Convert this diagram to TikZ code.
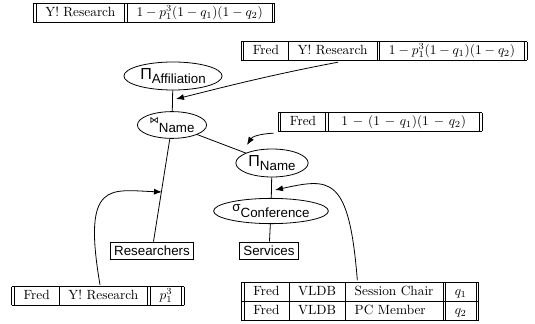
\documentclass[tikz,border=0pt]{standalone}
\usepackage{fontspec}
\setsansfont{Liberation Sans}
\newfontfamily\joinfont{DejaVu Sans}
\usetikzlibrary{shapes.geometric,arrows.meta}
\renewcommand{\arraystretch}{1.15}
\setlength{\tabcolsep}{7pt}

\begin{document}
\begin{tikzpicture}[x=0.75pt,y=-0.75pt,line width=0.6pt,
    operator/.style ={ellipse, draw, inner sep=1.5pt, font=\sffamily},
    relation/.style ={rectangle, draw, inner sep=3pt, font=\sffamily},
    result/.style ={inner sep=0pt},
    annot/.style ={-{Latex[length=6pt,width=4.5pt]}}]
   \useasboundingbox (0,0) rectangle (535,324);

   % query plan
   \node[operator] (aff)   at (173,76)  {{\large Π}\raisebox{-3.5pt}{Affiliation}};
   \node[operator] (join)  at (172,125) {\raisebox{3pt}{\joinfont\scriptsize ⋈}\raisebox{-3.5pt}{Name}};
   \node[operator] (pname) at (272,163) {{\large Π}\raisebox{-3.5pt}{Name}};
   \node[operator] (sel)   at (271,211) {\raisebox{2.5pt}{σ}\raisebox{-2.5pt}{Conference}};
   \node[relation] (res)   at (152,251) {Researchers};
   \node[relation] (serv)  at (269,251) {Services};

   \draw (aff) to (join);
   \draw (join) to (pname);
   \draw (join) to (res);
   \draw (pname) to (sel);
   \draw (sel) to (serv);

   % intermediate results
   \node[result] (t1) at (154,12.5) {\begin{tabular}{||c||c||}\hline
      Y! Research & $1-p_1^3(1-q_1)(1-q_2)$ \\ \hline\end{tabular}};
   \node[result] (t2) at (384,51) {\begin{tabular}{||c|c||c||}\hline
      Fred & Y! Research & $1-p_1^3(1-q_1)(1-q_2)$ \\ \hline\end{tabular}};
   \node[result] (t3) at (380,122) {\begin{tabular}{||c||c||}\hline
      Fred & \hspace{3pt}{\medmuskip=6.5mu $1-(1-q_1)(1-q_2)$}\hspace{3pt} \\ \hline\end{tabular}};
   \node[result] (t4) at (98,296) {\begin{tabular}{||c|c||c||}\hline
      Fred & Y! Research & $p_1^3$ \\ \hline\end{tabular}};
   \node[result] (t5) at (360,301) {\begin{tabular}{||c|c|l||c||}\hline
      Fred & VLDB & Session Chair & $q_1$ \\ \hline
      Fred & VLDB & PC Member & $q_2$ \\ \hline\end{tabular}};

   \coordinate (a1) at (176,99);
   \coordinate (a2) at (247,145);
   \coordinate (a3) at (162,192);
   \coordinate (a4) at (275,190);

   \draw[annot] ([xshift=-34.5pt,yshift=-0.8pt]t2.south) .. controls (270,75) and (220,88) .. (a1);
   \draw[annot] ([xshift=-3pt,yshift=-0.8pt]t3.south west) .. controls (258,134) and (252,137) .. (a2);
   \draw[annot] ([xshift=1.5pt,yshift=0.8pt]t4.north) .. controls (82,180) and (110,190) .. (a3);
   \draw[annot] ([xshift=-2pt,yshift=0.8pt]t5.north) .. controls (349,175) and (330,178) .. (a4);
 \end{tikzpicture}
\end{document}
